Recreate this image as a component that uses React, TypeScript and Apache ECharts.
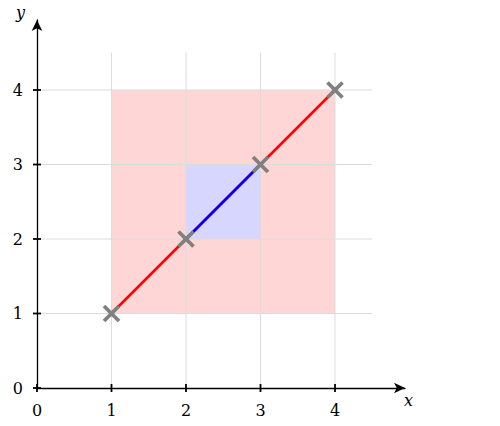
import React, { useEffect, useRef } from "react";
import * as echarts from "echarts";

const xTicks = [0, 1, 2, 3, 4];
const yTicks = [0, 1, 2, 3, 4];
const xTickLabels = ["0", "1", "2", "3", "4"];
const yTickLabels = ["0", "1", "2", "3", "4"];
const gridValues = [1, 2, 3, 4];
const gridExtent = 4.5;
const axisMax = 4.94;
const pointsX = [1, 2, 3, 4];
const pointsY = [1, 2, 3, 4];
const outerRect = [1, 1, 4, 4];
const innerRect = [2, 2, 3, 3];
const redSegment = [[1, 1], [4, 4]];
const blueSegment = [[2, 2], [3, 3]];

const FONT = "DejaVu Serif";
const UNIT = 74.5;

export default function App() {
  const ref = useRef<HTMLDivElement>(null);
  useEffect(() => {
    if (!ref.current) return;
    const chart = echarts.init(ref.current, null, { renderer: "svg" });
    const rectColors = ["#ffd6d6", "#d6d6ff"];
    const axisCommon = {
      type: "value" as const,
      min: 0,
      max: axisMax,
      interval: 1,
      axisLine: {
        show: true,
        onZero: false,
        lineStyle: { color: "#000", width: 1.3 },
        symbol: ["none", "arrow"],
        symbolSize: [8, 11],
      },
      axisTick: { show: false },
      axisLabel: { show: false },
      splitLine: { show: false },
    };
    const size = axisMax * UNIT;
    const labelFont = `16px "${FONT}"`;
    chart.setOption({
      animation: false,
      grid: { left: 37, top: 388 - size, width: size, height: size },
      xAxis: { ...axisCommon },
      yAxis: { ...axisCommon },
      graphic: [
        {
          type: "text",
          left: 404,
          top: 392,
          style: { text: "x", font: `italic 16px "${FONT}"`, fill: "#000" },
        },
        {
          type: "text",
          left: 16,
          top: 4,
          style: { text: "y", font: `italic 16px "${FONT}"`, fill: "#000" },
        },
      ],
      series: [
        {
          type: "custom",
          z: 1,
          silent: true,
          data: [outerRect, innerRect],
          renderItem: (params: any, api: any) => {
            const p1 = api.coord([api.value(0), api.value(3)]);
            const p2 = api.coord([api.value(2), api.value(1)]);
            return {
              type: "rect",
              shape: { x: p1[0], y: p1[1], width: p2[0] - p1[0], height: p2[1] - p1[1] },
              style: { fill: rectColors[params.dataIndex] },
            };
          },
        },
        {
          type: "custom",
          z: 2,
          silent: true,
          data: gridValues.map((v) => [v]),
          renderItem: (params: any, api: any) => {
            const v = api.value(0);
            const a = api.coord([v, 0]);
            const b = api.coord([v, gridExtent]);
            const c = api.coord([0, v]);
            const d = api.coord([gridExtent, v]);
            const style = { stroke: "#dcdcdc", lineWidth: 1 };
            return {
              type: "group",
              children: [
                { type: "line", shape: { x1: a[0], y1: a[1], x2: b[0], y2: b[1] }, style },
                { type: "line", shape: { x1: c[0], y1: c[1], x2: d[0], y2: d[1] }, style },
              ],
            };
          },
        },
        {
          type: "line",
          z: 3,
          data: redSegment,
          showSymbol: false,
          lineStyle: { color: "#ff0000", width: 2.5 },
        },
        {
          type: "line",
          z: 4,
          data: blueSegment,
          showSymbol: false,
          lineStyle: { color: "#0000ff", width: 2.5 },
        },
        {
          type: "custom",
          z: 5,
          silent: true,
          data: pointsX.map((x, i) => [x, pointsY[i]]),
          renderItem: (params: any, api: any) => {
            const p = api.coord([api.value(0), api.value(1)]);
            const r = 7.5;
            const style = { stroke: "#808080", lineWidth: 3.8 };
            return {
              type: "group",
              children: [
                { type: "line", shape: { x1: p[0] - r, y1: p[1] - r, x2: p[0] + r, y2: p[1] + r }, style },
                { type: "line", shape: { x1: p[0] - r, y1: p[1] + r, x2: p[0] + r, y2: p[1] - r }, style },
              ],
            };
          },
        },
        {
          type: "custom",
          z: 6,
          silent: true,
          data: xTicks.map((x, i) => [x, yTicks[i]]),
          renderItem: (params: any, api: any) => {
            const i = params.dataIndex;
            const px = api.coord([api.value(0), 0]);
            const py = api.coord([0, api.value(1)]);
            const h = 4;
            const style = { stroke: "#000", lineWidth: 1.8 };
            return {
              type: "group",
              children: [
                { type: "line", shape: { x1: px[0], y1: px[1] - h, x2: px[0], y2: px[1] + h }, style },
                { type: "line", shape: { x1: py[0] - h, y1: py[1], x2: py[0] + h, y2: py[1] }, style },
                {
                  type: "text",
                  x: px[0],
                  y: px[1] + 22,
                  style: {
                    text: xTickLabels[i],
                    font: labelFont,
                    fill: "#000",
                    align: "center",
                    verticalAlign: "middle",
                  },
                },
                {
                  type: "text",
                  x: py[0] - 14,
                  y: py[1],
                  style: {
                    text: yTickLabels[i],
                    font: labelFont,
                    fill: "#000",
                    align: "right",
                    verticalAlign: "middle",
                  },
                },
              ],
            };
          },
        },
      ],
    });
    return () => chart.dispose();
  }, []);
  return (
    <div
      ref={ref}
      style={{ position: "absolute", left: 0, top: 0, width: 500, height: 426, background: "#fff" }}
    />
  );
}
